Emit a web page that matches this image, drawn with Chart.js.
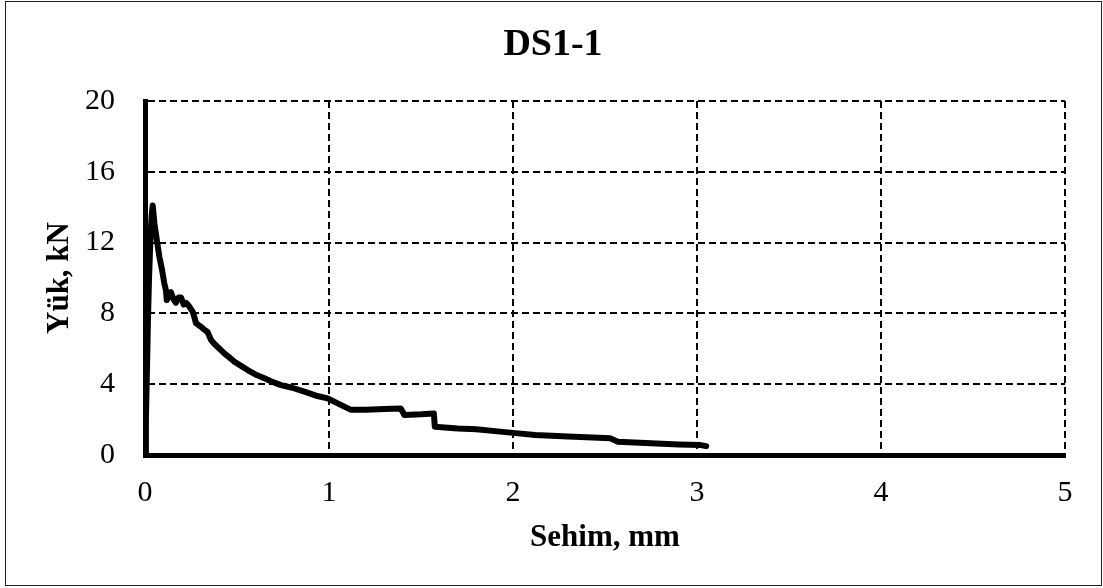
<!DOCTYPE html>
<html lang="tr">
<head>
    <meta charset="UTF-8">
    <title>DS1-1</title>
    <script src="https://cdn.jsdelivr.net/npm/chart.js"></script>
    <style>
        body {
            margin: 0;
            padding: 0;
            background-color: #fff;
        }
    </style>
</head>
<body>
    <canvas id="ds11Chart" width="1103" height="588"></canvas>

    <script>
        // Sehim (mm) and Yük (kN)
        const sehim = [0, 0.005, 0.01, 0.016, 0.022, 0.029, 0.036, 0.042, 0.051, 0.065, 0.078, 0.092, 0.105, 0.114,
            0.118, 0.13, 0.141, 0.155, 0.168, 0.182, 0.196, 0.21, 0.223, 0.24, 0.259, 0.268, 0.277, 0.29, 0.304,
            0.32, 0.34, 0.359, 0.375, 0.395, 0.41, 0.431, 0.46, 0.486, 0.52, 0.558, 0.6, 0.649, 0.7, 0.739, 0.8,
            0.866, 0.93, 0.993, 1.05, 1.12, 1.2, 1.3, 1.39, 1.41, 1.5, 1.57, 1.575, 1.7, 1.8, 1.93, 2.0, 2.12,
            2.3, 2.53, 2.57, 2.75, 2.9, 3.02, 3.05];
        const yuk = [0, 2, 4.5, 7.6, 10, 12.1, 13.5, 14.1, 13.1, 12.1, 11.2, 10.5, 9.7, 9.3,
            8.75, 9.0, 9.2, 8.8, 8.6, 8.9, 8.9, 8.5, 8.6, 8.4, 8.1, 7.8, 7.45, 7.35, 7.25,
            7.1, 6.95, 6.5, 6.3, 6.1, 5.95, 5.74, 5.5, 5.27, 5.05, 4.8, 4.55, 4.33, 4.1, 3.95, 3.8,
            3.58, 3.35, 3.2, 2.9, 2.55, 2.55, 2.6, 2.63, 2.26, 2.3, 2.35, 1.6, 1.5, 1.45, 1.32, 1.25, 1.13,
            1.05, 0.94, 0.75, 0.66, 0.6, 0.56, 0.5];
        const xTicks = [0, 1, 2, 3, 4, 5];
        const yTicks = [0, 4, 8, 12, 16, 20];

        const serif = "'Liberation Serif', 'Times New Roman', serif";

        // white background + thin frame round the whole chart
        const framePlugin = {
            id: 'frame',
            beforeDraw(chart) {
                const ctx = chart.ctx;
                ctx.save();
                ctx.fillStyle = '#fff';
                ctx.fillRect(0, 0, chart.width, chart.height);
                ctx.restore();
            },
            afterDraw(chart) {
                const ctx = chart.ctx;
                ctx.save();
                ctx.strokeStyle = '#222';
                ctx.lineWidth = 1;
                ctx.strokeRect(5.5, 1.5, 1096, 584);
                ctx.restore();
            }
        };

        const points = sehim.map((x, i) => ({ x: x, y: yuk[i] }));

        new Chart(document.getElementById('ds11Chart').getContext('2d'), {
            type: 'line',
            data: {
                datasets: [{
                    data: points,
                    borderColor: '#000',
                    borderWidth: 6,
                    borderCapStyle: 'round',
                    borderJoinStyle: 'round',
                    pointRadius: 0,
                    tension: 0,
                    fill: false
                }]
            },
            options: {
                responsive: false,
                animation: false,
                layout: {
                    padding: { left: 41, right: 38, top: 0, bottom: 0 }
                },
                plugins: {
                    legend: { display: false },
                    tooltip: { enabled: false },
                    title: {
                        display: true,
                        text: 'DS1-1',
                        color: '#000',
                        font: { family: serif, size: 38, weight: 'bold', lineHeight: 1.2 },
                        padding: { top: 22, bottom: 33.4 }
                    }
                },
                scales: {
                    x: {
                        type: 'linear',
                        min: 0,
                        max: 5,
                        afterBuildTicks: (scale) => { scale.ticks = xTicks.map(v => ({ value: v })); },
                        afterFit: (scale) => { scale.height = 133; },
                        ticks: {
                            color: '#000',
                            padding: 20,
                            font: { family: serif, size: 30, lineHeight: 1.2 }
                        },
                        grid: { color: '#000', lineWidth: 2, drawTicks: false },
                        border: { display: true, color: '#000', width: 5, dash: [7, 4] },
                        title: {
                            display: true,
                            text: 'Sehim, mm',
                            color: '#000',
                            font: { family: serif, size: 31, weight: 'bold', lineHeight: 1.2 },
                            padding: { top: 0, bottom: 31.4 }
                        }
                    },
                    y: {
                        type: 'linear',
                        min: 0,
                        max: 20,
                        afterBuildTicks: (scale) => { scale.ticks = yTicks.map(v => ({ value: v })); },
                        afterFit: (scale) => { scale.width = 104; },
                        ticks: {
                            color: '#000',
                            padding: 30,
                            font: { family: serif, size: 30, lineHeight: 1.2 }
                        },
                        grid: { color: '#000', lineWidth: 2, drawTicks: false },
                        border: { display: true, color: '#000', width: 5, dash: [7, 4] },
                        title: {
                            display: true,
                            text: 'Yük, kN',
                            color: '#000',
                            font: { family: serif, size: 31, weight: 'bold', lineHeight: 1.2 },
                            padding: { top: 0, bottom: 0 }
                        }
                    }
                }
            },
            plugins: [framePlugin]
        });
    </script>
</body>
</html>
